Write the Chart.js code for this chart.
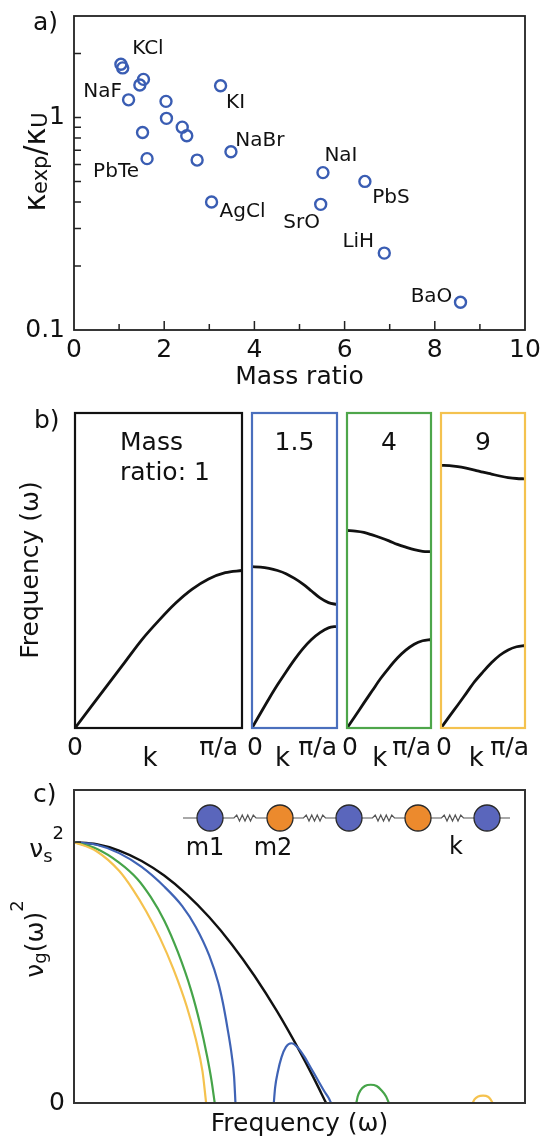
<!DOCTYPE html>
<html>
<head>
<meta charset="utf-8">
<title>Mass ratio, dispersion and group velocity</title>
<script src="https://cdn.jsdelivr.net/npm/chart.js@4.4.1/dist/chart.umd.min.js"></script>
<style>
  html, body { margin: 0; padding: 0; background: #fff; }
  #page { position: relative; width: 542px; height: 1139px; overflow: hidden; }
  #page canvas { position: absolute; left: 0; }
</style>
</head>
<body>
<div id="page">
  <canvas id="chartA" width="542" height="400" style="top:0"></canvas>
  <canvas id="chartB0" width="542" height="380" style="top:400px"></canvas>
  <canvas id="chartB1" width="542" height="380" style="top:400px"></canvas>
  <canvas id="chartB2" width="542" height="380" style="top:400px"></canvas>
  <canvas id="chartB3" width="542" height="380" style="top:400px"></canvas>
  <canvas id="chartC" width="542" height="359" style="top:780px"></canvas>
</div>
<script>
// ---- a) kappa_exp / kappa_U against mass ratio
const massRatio  = [1.04, 1.08, 1.54, 1.46, 1.21, 3.25, 2.04, 2.05, 2.40, 2.50, 1.52, 3.48, 2.73, 1.62, 5.52, 6.45, 3.05, 5.47, 6.88, 8.57];
const kappaRatio = [1.78, 1.71, 1.51, 1.42, 1.21, 1.41, 1.19, 0.99, 0.90, 0.82, 0.85, 0.69, 0.63, 0.64, 0.55, 0.50, 0.40, 0.39, 0.23, 0.135];
const compound   = ['KCl', '', '', '', 'NaF', 'KI', '', '', '', '', '', 'NaBr', '', 'PbTe', 'NaI', 'PbS', 'AgCl', 'SrO', 'LiH', 'BaO'];
const xTicksA = [0, 1, 2, 3, 4, 5, 6, 7, 8, 9, 10];
const yTicksA = [0.1, 0.2, 0.3, 0.4, 0.5, 0.6, 0.7, 0.8, 0.9, 1, 2, 3];

// ---- b) dispersion, k from 0 to pi/a (fraction), frequency as fraction of panel height
const kFrac = [0, 0.1, 0.2, 0.3, 0.4, 0.5, 0.6, 0.7, 0.8, 0.9, 1];
const bandRatios = ['1', '1.5', '4', '9'];
const acoustic1  = [0, 0.07, 0.14, 0.21, 0.28, 0.34, 0.395, 0.44, 0.473, 0.493, 0.5];
const acoustic15 = [0, 0.047, 0.093, 0.137, 0.178, 0.217, 0.252, 0.281, 0.303, 0.318, 0.323];
const optical15  = [0.512, 0.511, 0.507, 0.500, 0.490, 0.475, 0.457, 0.435, 0.413, 0.398, 0.392];
const acoustic4  = [0, 0.039, 0.079, 0.118, 0.157, 0.191, 0.222, 0.247, 0.266, 0.277, 0.281];
const optical4   = [0.627, 0.625, 0.621, 0.613, 0.604, 0.594, 0.583, 0.574, 0.566, 0.561, 0.56];
const acoustic9  = [0, 0.037, 0.073, 0.11, 0.147, 0.178, 0.207, 0.231, 0.248, 0.258, 0.262];
const optical9   = [0.834, 0.833, 0.83, 0.825, 0.819, 0.812, 0.806, 0.8, 0.795, 0.792, 0.791];

// ---- c) v_g(w)^2 against frequency (vs^2 = 1)
const blackW = [0, 0.05, 0.1, 0.15, 0.2, 0.25, 0.3, 0.35, 0.4, 0.45, 0.5, 0.53, 0.559];
const blackV = [1, 0.992, 0.968, 0.928, 0.872, 0.80, 0.712, 0.608, 0.488, 0.352, 0.20, 0.101, 0];
const blueAcW = [0, 0.05, 0.1, 0.15, 0.2, 0.24, 0.27, 0.3, 0.32, 0.33, 0.34, 0.35, 0.355, 0.358];
const blueAcV = [1, 0.99, 0.958, 0.905, 0.83, 0.755, 0.675, 0.565, 0.46, 0.385, 0.29, 0.18, 0.1, 0];
const blueOpW = [0.443, 0.446, 0.452, 0.46, 0.47, 0.482, 0.495, 0.51, 0.525, 0.54, 0.555, 0.565, 0.57];
const blueOpV = [0, 0.06, 0.12, 0.175, 0.215, 0.229, 0.215, 0.18, 0.135, 0.09, 0.045, 0.018, 0];
const greenAcW = [0, 0.05, 0.1, 0.14, 0.17, 0.2, 0.23, 0.26, 0.28, 0.295, 0.305, 0.312];
const greenAcV = [1, 0.975, 0.922, 0.86, 0.79, 0.7, 0.58, 0.43, 0.3, 0.18, 0.085, 0];
const greenOpW = [0.626, 0.629, 0.635, 0.645, 0.658, 0.671, 0.681, 0.692, 0.698];
const greenOpV = [0, 0.025, 0.048, 0.065, 0.07, 0.065, 0.05, 0.025, 0];
const yellowAcW = [0, 0.05, 0.1, 0.13, 0.16, 0.19, 0.22, 0.25, 0.27, 0.285, 0.293];
const yellowAcV = [1, 0.965, 0.89, 0.82, 0.735, 0.635, 0.515, 0.37, 0.245, 0.12, 0];
const yellowOpW = [0.884, 0.888, 0.896, 0.907, 0.918, 0.924, 0.928];
const yellowOpV = [0, 0.014, 0.025, 0.028, 0.024, 0.013, 0];

const FONT = "'DejaVu Sans', 'Liberation Sans', sans-serif";
const INK = '#111';
const BLUE = '#3f63b5', GREEN = '#46a449', YELLOW = '#f5c24e';

Chart.defaults.font.family = FONT;
Chart.defaults.color = INK;
Chart.defaults.animation = false;
Chart.defaults.events = [];
Chart.defaults.plugins.legend.display = false;
Chart.defaults.plugins.tooltip.enabled = false;

// label centre offsets from their point, in px
const labelOffset = {
  KCl: [27, -15], NaF: [-26, -8], KI: [15, 17], NaBr: [29, -11], PbTe: [-31, 13],
  NaI: [18, -17], PbS: [26, 16], AgCl: [31, 10], SrO: [-19, 18], LiH: [-26, -11], BaO: [-29, -5]
};

function toXY(xs, ys) {
  return xs.map((x, i) => ({ x: x, y: ys[i] }));
}

// text made of pieces with their own size and baseline shift (sub/superscripts)
function drawRich(ctx, parts, x, y, align, rot) {
  ctx.save();
  ctx.translate(x, y);
  if (rot) ctx.rotate(rot);
  ctx.textAlign = 'left';
  ctx.textBaseline = 'alphabetic';
  let total = 0;
  parts.forEach(p => {
    ctx.font = p[1] + 'px ' + FONT;
    p.w = ctx.measureText(p[0]).width;
    total += p.w;
  });
  let cx = align === 'center' ? -total / 2 : (align === 'right' ? -total : 0);
  parts.forEach(p => {
    ctx.font = p[1] + 'px ' + FONT;
    ctx.fillText(p[0], cx, p[2] || 0);
    cx += p.w;
  });
  ctx.restore();
}

function lineSet(data, color, width) {
  return {
    data: data, showLine: true, pointRadius: 0, borderColor: color,
    borderWidth: width, fill: false, cubicInterpolationMode: 'monotone'
  };
}

// keep the plot box exactly where the axis sizes put it
function fixV(width) {
  return s => { s.width = width; s.paddingTop = 0; s.paddingBottom = 0; };
}
function fixH(height) {
  return s => { s.height = height; s.paddingLeft = 0; s.paddingRight = 0; };
}

// ================= a)
const panelA = {
  id: 'panelA',
  afterDraw(chart) {
    const { ctx, chartArea: ca, scales: { x, y } } = chart;
    ctx.save();
    ctx.strokeStyle = '#222';
    ctx.lineWidth = 1.8;
    ctx.strokeRect(ca.left, ca.top, ca.right - ca.left, ca.bottom - ca.top);
    ctx.lineWidth = 1.5;
    ctx.beginPath();
    xTicksA.forEach(v => {
      if (v === 0 || v === 10) return;
      const px = x.getPixelForValue(v);
      ctx.moveTo(px, ca.bottom);
      ctx.lineTo(px, ca.bottom - (v % 2 ? 6 : 9));
    });
    yTicksA.forEach(v => {
      if (v === 0.1 || v === 3) return;
      const py = y.getPixelForValue(v);
      ctx.moveTo(ca.left, py);
      ctx.lineTo(ca.left + 7, py);
    });
    ctx.stroke();

    ctx.fillStyle = INK;
    ctx.font = '20px ' + FONT;
    ctx.textAlign = 'center';
    ctx.textBaseline = 'middle';
    compound.forEach((name, i) => {
      if (!name) return;
      const off = labelOffset[name];
      ctx.fillText(name, x.getPixelForValue(massRatio[i]) + off[0], y.getPixelForValue(kappaRatio[i]) + off[1]);
    });

    drawRich(ctx, [['a)', 25]], 33, 30, 'left');
    drawRich(ctx, [['κ', 30], ['exp', 21, 2], ['/', 30], ['κ', 30], ['U', 21, 2]], 45, 162, 'center', -Math.PI / 2);
    ctx.restore();
  }
};

new Chart(document.getElementById('chartA'), {
  type: 'scatter',
  data: {
    datasets: [{
      data: toXY(massRatio, kappaRatio),
      pointRadius: 5.5,
      pointBorderWidth: 2.4,
      pointBackgroundColor: 'rgba(0,0,0,0)',
      pointBorderColor: '#3a5db3'
    }]
  },
  options: {
    responsive: false,
    layout: { padding: { left: 0, right: 17, top: 16, bottom: 0 } },
    scales: {
      x: {
        type: 'linear', min: 0, max: 10,
        grid: { display: false, drawTicks: false }, border: { display: false },
        afterBuildTicks: s => { s.ticks = xTicksA.map(v => ({ value: v })); },
        afterFit: fixH(70),
        ticks: {
          autoSkip: false, maxRotation: 0, padding: 5, font: { size: 25 }, color: INK,
          callback: v => (v % 2 === 0 ? String(v) : '')
        },
        title: { display: true, text: 'Mass ratio', font: { size: 25 }, color: INK, padding: { top: 0, bottom: 8 } }
      },
      y: {
        type: 'logarithmic', min: 0.1, max: 3,
        grid: { display: false, drawTicks: false }, border: { display: false },
        afterBuildTicks: s => { s.ticks = yTicksA.map(v => ({ value: v })); },
        afterFit: fixV(74),
        ticks: {
          autoSkip: false, padding: 9, font: { size: 25 }, color: INK,
          callback: v => (v === 1 ? '1' : (v === 0.1 ? '0.1' : ''))
        }
      }
    }
  },
  plugins: [panelA]
});

// ================= b)
const bandBoxes = [
  { left: 75, right: 242, color: INK, kAt: 0.45 },
  { left: 252, right: 337, color: '#4a6fbd', kAt: 0.36 },
  { left: 347, right: 431, color: '#4ea64a', kAt: 0.39 },
  { left: 441, right: 525, color: '#f4c24f', kAt: 0.42 }
];
const bandCurves = [
  [acoustic1],
  [acoustic15, optical15],
  [acoustic4, optical4],
  [acoustic9, optical9]
];

bandBoxes.forEach((box, i) => {
  const panelB = {
    id: 'panelB' + i,
    afterDraw(chart) {
      const { ctx, chartArea: ca, scales: { x } } = chart;
      ctx.save();
      ctx.strokeStyle = box.color;
      ctx.lineWidth = 2.2;
      ctx.strokeRect(ca.left, ca.top, ca.right - ca.left, ca.bottom - ca.top);
      ctx.fillStyle = INK;
      if (i === 0) {
        drawRich(ctx, [['Mass', 25]], 120, 50, 'left');
        drawRich(ctx, [['ratio: ' + bandRatios[0], 25]], 120, 80, 'left');
        drawRich(ctx, [['b)', 25]], 34, 28, 'left');
        drawRich(ctx, [['Frequency (ω)', 25]], 38, 170, 'center', -Math.PI / 2);
      } else {
        drawRich(ctx, [[bandRatios[i], 25]], (ca.left + ca.right) / 2, 50, 'center');
      }
      ctx.font = '25px ' + FONT;
      ctx.textBaseline = 'middle';
      ctx.textAlign = 'center';
      ctx.fillText('0', x.getPixelForValue(0) + (i ? 3 : 0), 348);
      ctx.textAlign = 'right';
      ctx.fillText('π/a', x.getPixelForValue(1) + (i === 3 ? 4 : (i === 0 ? -4 : 0)), 348);
      ctx.textAlign = 'center';
      ctx.font = '26px ' + FONT;
      ctx.fillText('k', x.getPixelForValue(box.kAt), 359);
      ctx.restore();
    }
  };
  new Chart(document.getElementById('chartB' + i), {
    type: 'scatter',
    data: { datasets: bandCurves[i].map(c => lineSet(toXY(kFrac, c), INK, 2.8)) },
    options: {
      responsive: false,
      layout: { padding: { left: box.left, right: 542 - box.right, top: 13, bottom: 52 } },
      scales: {
        x: { type: 'linear', min: 0, max: 1, display: false },
        y: { type: 'linear', min: 0, max: 1, display: false }
      }
    },
    plugins: [panelB]
  });
});

// ================= c)
const chain = { x0: 183, x1: 510, y: 38, r: 13, beads: [210, 280, 349, 418, 487] };
const beadColors = ['#5a66bc', '#ec8a2d'];

const panelC = {
  id: 'panelC',
  afterDraw(chart) {
    const { ctx, chartArea: ca, scales: { y } } = chart;
    ctx.save();
    ctx.strokeStyle = '#333';
    ctx.lineWidth = 2;
    ctx.strokeRect(ca.left, ca.top, ca.right - ca.left, ca.bottom - ca.top);
    ctx.lineWidth = 1.5;
    ctx.beginPath();
    const py = y.getPixelForValue(1);
    ctx.moveTo(ca.left, py);
    ctx.lineTo(ca.left + 7, py);
    ctx.stroke();

    // mass-spring chain inset
    const b = chain.beads, r = chain.r, cy = chain.y;
    ctx.strokeStyle = '#555';
    ctx.lineWidth = 1.2;
    ctx.beginPath();
    ctx.moveTo(chain.x0, cy);
    ctx.lineTo(b[0] - r, cy);
    for (let j = 0; j < b.length - 1; j++) {
      const l = b[j] + r, rr = b[j + 1] - r, mid = (l + rr) / 2;
      ctx.moveTo(l, cy);
      ctx.lineTo(mid - 11, cy);
      for (let s = 1; s <= 8; s++) {
        ctx.lineTo(mid - 11 + s * 2.75, cy + (s === 8 ? 0 : (s % 2 ? -3 : 3)));
      }
      ctx.lineTo(rr, cy);
    }
    ctx.moveTo(b[b.length - 1] + r, cy);
    ctx.lineTo(chain.x1, cy);
    ctx.stroke();
    b.forEach((bx, j) => {
      ctx.beginPath();
      ctx.arc(bx, cy, r, 0, Math.PI * 2);
      ctx.fillStyle = beadColors[j % 2];
      ctx.fill();
      ctx.strokeStyle = '#2a2a2a';
      ctx.lineWidth = 1.3;
      ctx.stroke();
    });

    ctx.fillStyle = INK;
    ctx.font = '24px ' + FONT;
    ctx.textAlign = 'center';
    ctx.textBaseline = 'middle';
    ctx.fillText('m1', 205, 69);
    ctx.fillText('m2', 273, 69);
    ctx.fillText('k', 456, 68);

    drawRich(ctx, [['c)', 25]], 33, 22, 'left');
    drawRich(ctx, [['ν', 25], ['s', 18, 5], ['2', 18, -18]], 64, 77, 'right');
    drawRich(ctx, [['ν', 25], ['g', 18, 3], ['(ω)', 25], ['2', 18, -20]], 43, 159, 'center', -Math.PI / 2);
    ctx.restore();
  }
};

new Chart(document.getElementById('chartC'), {
  type: 'scatter',
  data: {
    datasets: [
      lineSet(toXY(yellowAcW, yellowAcV), YELLOW, 2.2),
      lineSet(toXY(yellowOpW, yellowOpV), YELLOW, 2.2),
      lineSet(toXY(greenAcW, greenAcV), GREEN, 2.2),
      lineSet(toXY(greenOpW, greenOpV), GREEN, 2.2),
      lineSet(toXY(blueAcW, blueAcV), BLUE, 2.2),
      lineSet(toXY(blueOpW, blueOpV), BLUE, 2.2),
      lineSet(toXY(blackW, blackV), INK, 2.4)
    ]
  },
  options: {
    responsive: false,
    layout: { padding: { left: 0, right: 17, top: 10, bottom: 0 } },
    scales: {
      x: {
        type: 'linear', min: 0, max: 1,
        grid: { display: false, drawTicks: false }, border: { display: false },
        ticks: { display: false },
        afterFit: fixH(36),
        title: { display: true, text: 'Frequency (ω)', font: { size: 25 }, color: INK, padding: { top: 0, bottom: 0 } }
      },
      y: {
        type: 'linear', min: 0, max: 1.2,
        grid: { display: false, drawTicks: false }, border: { display: false },
        afterBuildTicks: s => { s.ticks = [{ value: 0 }, { value: 1 }]; },
        afterFit: fixV(74),
        ticks: {
          autoSkip: false, padding: 9, font: { size: 25 }, color: INK,
          callback: v => (v === 0 ? '0' : '')
        }
      }
    }
  },
  plugins: [panelC]
});
</script>
</body>
</html>
